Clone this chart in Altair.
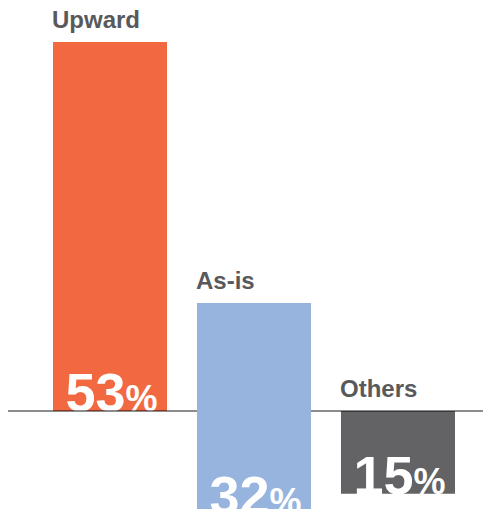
import altair as alt
import pandas as pd

# Data
categories = ["Upward", "As-is", "Others"]
values = [53, 32, 15]
# bar extents in percentage points relative to the baseline (as drawn in the picture)
bar_top = [53, 15.5, 0]
bar_bottom = [0, -14.8, -11.9]
colors = ["#F26941", "#96B4DE", "#636366"]
baseline = [0]

df = pd.DataFrame({
    "category": categories,
    "value": values,
    "top": bar_top,
    "bottom": bar_bottom,
    "num": [str(v) for v in values],
    "pct": ["%"] * len(values),
})
df_base = pd.DataFrame({"zero": baseline})

W = 475
H = 501
ydom = [-14.08, 57.88]
FONT = "Liberation Sans"

xscale = alt.Scale(paddingInner=30 / 144, paddingOuter=0.2535, align=45 / 73)
x = alt.X("category:N", sort=categories, axis=None, scale=xscale)
yscale = alt.Scale(domain=ydom, nice=False, zero=False)
y_top = alt.Y("top:Q", axis=None, scale=yscale)
y_bot = alt.Y("bottom:Q", axis=None, scale=yscale)
color = alt.Color("category:N", scale=alt.Scale(domain=categories, range=colors), legend=None)

base = alt.Chart(df)
not_asis = alt.datum.category != "As-is"
is_asis = alt.datum.category == "As-is"


def bars(flt):
    return base.transform_filter(flt).mark_bar().encode(
        x=x, y=y_top, y2=alt.Y2("bottom:Q"), color=color
    )


def digits(flt):
    return base.transform_filter(flt).mark_text(
        font=FONT, fontWeight="bold", fontSize=54, color="white",
        align="right", baseline="alphabetic", dx=15.5
    ).encode(x=x, y=y_bot, text="num:N")


def pct(flt):
    return base.transform_filter(flt).mark_text(
        font=FONT, fontWeight="bold", fontSize=36, color="white",
        align="left", baseline="alphabetic", dx=15.5
    ).encode(x=x, y=y_bot, text="pct:N")


rule = alt.Chart(df_base).mark_rule(color="black", opacity=0.45, strokeWidth=2).encode(
    y=alt.Y("zero:Q", axis=None, scale=yscale)
)

labels = base.mark_text(
    font=FONT, fontWeight="bold", fontSize=24, color="#58595B",
    align="left", baseline="alphabetic", dx=-58, dy=-14
).encode(x=x, y=y_top, text="category:N")

chart = alt.layer(
    bars(not_asis), digits(not_asis), pct(not_asis), rule,
    bars(is_asis), digits(is_asis), pct(is_asis), labels
).properties(
    width=W, height=H, padding=0,
    autosize=alt.AutoSizeParams(type="none"),
).configure_view(stroke=None)

chart.save("out.html", embed_options={"renderer": "svg", "actions": False})
